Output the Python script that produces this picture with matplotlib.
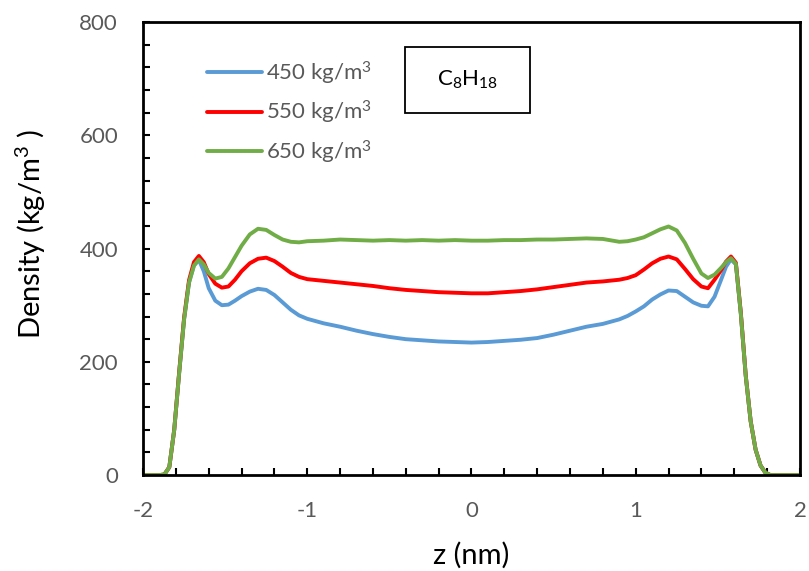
import numpy as np
import matplotlib
matplotlib.use('Agg')
from matplotlib import pyplot as plt
from matplotlib.patches import Rectangle
from matplotlib.ticker import MultipleLocator

plt.rcParams['font.family'] = ['Lato', 'DejaVu Sans']
plt.rcParams['mathtext.fontset'] = 'custom'
plt.rcParams['mathtext.rm'] = 'Lato'
plt.rcParams['mathtext.it'] = 'Lato'
plt.rcParams['axes.unicode_minus'] = False

# z positions (nm)
z = [-2.0, -1.90, -1.87, -1.84, -1.81, -1.78, -1.75, -1.72, -1.69, -1.66,
     -1.63, -1.60, -1.56, -1.52, -1.48, -1.44, -1.40, -1.35, -1.30, -1.25,
     -1.20, -1.15, -1.10, -1.05, -1.0, -0.9, -0.8, -0.7, -0.6, -0.5,
     -0.4, -0.3, -0.2, -0.1, 0.0, 0.1, 0.2, 0.3, 0.4, 0.5,
     0.6, 0.7, 0.8, 0.9, 0.95, 1.0, 1.05, 1.10, 1.15, 1.20,
     1.25, 1.30, 1.35, 1.40, 1.44, 1.48, 1.52, 1.55, 1.58, 1.61,
     1.64, 1.67, 1.70, 1.73, 1.76, 1.79, 1.82, 1.90, 2.0]

# density (kg/m3) for each initial density
rho_450 = [0, 0, 1, 14, 80, 180, 275, 340, 370, 380,
           360, 330, 308, 300, 301, 308, 316, 324, 329, 327,
           318, 305, 292, 282, 276, 268, 262, 255, 249, 244,
           240, 238, 236, 235, 234, 235, 237, 239, 242, 248,
           255, 262, 267, 275, 281, 289, 298, 310, 319, 326,
           325, 315, 305, 299, 298, 315, 345, 368, 381, 372,
           285, 175, 95, 45, 17, 4, 0, 0, 0]

rho_550 = [0, 0, 1, 14, 80, 182, 278, 344, 376, 387,
           376, 355, 338, 331, 333, 345, 360, 374, 382, 384,
           378, 368, 357, 350, 346, 343, 340, 337, 334, 330,
           327, 325, 323, 322, 321, 321, 323, 325, 328, 332,
           336, 340, 342, 345, 348, 353, 363, 374, 382, 386,
           381, 364, 346, 333, 330, 345, 362, 377, 386, 375,
           287, 176, 95, 45, 17, 4, 0, 0, 0]

rho_650 = [0, 0, 1, 14, 80, 180, 275, 340, 370, 381,
           372, 357, 347, 350, 365, 385, 405, 425, 435, 433,
           424, 416, 412, 411, 413, 414, 416, 415, 414, 415,
           414, 415, 414, 415, 414, 414, 415, 415, 416, 416,
           417, 418, 417, 412, 413, 416, 420, 427, 434, 439,
           432, 410, 382, 356, 348, 354, 366, 376, 383, 373,
           285, 175, 95, 45, 17, 4, 0, 0, 0]

labels = ['450 kg/m$^3$', '550 kg/m$^3$', '650 kg/m$^3$']
colors = ['#5B9BD5', '#FF0000', '#70AD47']

fig = plt.figure(figsize=(8.09, 5.71), dpi=100)
ax = fig.add_axes([0.1768, 0.168, 0.812, 0.7933])

for rho, lab, col in zip([rho_450, rho_550, rho_650], labels, colors):
	ax.plot(z, rho, color=col, linewidth=2.8, label=lab, solid_capstyle='round')

ax.set_xlim(-2, 2)
ax.set_ylim(0, 800)
ax.xaxis.set_major_locator(MultipleLocator(1))
ax.xaxis.set_minor_locator(MultipleLocator(0.2))
ax.yaxis.set_major_locator(MultipleLocator(200))
ax.yaxis.set_minor_locator(MultipleLocator(40))

for sp in ax.spines.values():
	sp.set_linewidth(2.0)
	sp.set_color('black')

ax.tick_params(axis='both', which='both', direction='in', length=5, width=1.5,
			   top=False, right=False, labelsize=16, labelcolor='#595959', color='black')
ax.tick_params(axis='y', which='major', pad=18)
ax.tick_params(axis='x', which='major', pad=19)

ax.set_xlabel('z (nm)', fontsize=21, labelpad=15)
ax.set_ylabel('Density (kg/m$^3$ )', fontsize=21)
ax.yaxis.set_label_coords(-0.144, 0.532)

leg = ax.legend(loc='upper left', bbox_to_anchor=(0.084, 0.937), frameon=False, fontsize=16,
				handlelength=2.45, handletextpad=0.22, labelspacing=0.55, borderaxespad=0)
for t in leg.get_texts():
	t.set_color('#595959')
for h in leg.get_lines():
	h.set_linewidth(2.8)

ax.add_patch(Rectangle((0.399, 0.799), 0.19, 0.146, transform=ax.transAxes,
					   fill=False, edgecolor='black', linewidth=1.3))
ax.text(0.494, 0.872, r'C$_8$H$_{18}$', transform=ax.transAxes, fontsize=16,
		ha='center', va='center', color='black')

plt.savefig('out.png', dpi=100)
plt.close()
